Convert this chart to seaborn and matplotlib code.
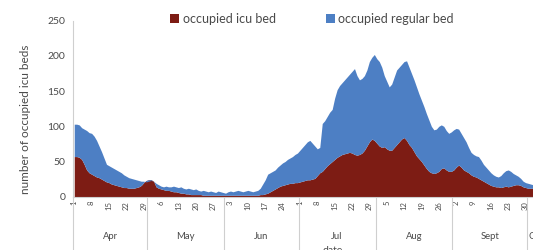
import numpy as np
import pandas as pd
import matplotlib
matplotlib.use("Agg")
import matplotlib.pyplot as plt
import matplotlib.transforms as mtransforms
import seaborn as sns

# --- DATA (one value per day from 1 April)
start_date = "2020-04-01"

total_beds = [
    103, 103, 102, 98, 96, 94, 91, 90, 86, 80, 72, 64, 55, 46, 44, 42, 40, 38, 36, 34,
    31, 29, 27, 26, 25, 24, 23, 22, 22, 21, 22, 23, 22, 19, 17, 15, 14, 15, 14, 14,
    15, 14, 13, 14, 12, 11, 12, 11, 10, 11, 9, 8, 9, 8, 7, 8, 7, 6, 8, 7,
    6, 5, 7, 8, 7, 8, 9, 8, 7, 8, 9, 8, 7, 8, 9, 12, 18, 24, 32, 34,
    36, 38, 42, 45, 48, 50, 53, 55, 57, 60, 62, 66, 70, 74, 78, 80, 76, 72, 68, 70,
    104, 108, 114, 120, 124, 140, 152, 158, 162, 166, 170, 174, 178, 182, 172, 166, 168, 172, 180, 192,
    198, 202, 196, 192, 184, 172, 164, 156, 160, 170, 180, 184, 188, 192, 193, 184, 175, 166, 156, 146,
    137, 128, 118, 109, 100, 95, 96, 100, 102, 100, 94, 90, 92, 95, 97, 96, 90, 84, 78, 70,
    63, 60, 58, 57, 52, 46, 42, 38, 34, 31, 29, 28, 30, 34, 37, 38, 36, 33, 31, 29,
    26, 22, 20, 19, 18, 17, 17, 16, 16, 15, 15,
]

icu_beds = [
    57, 57, 56, 53, 46, 38, 34, 32, 30, 28, 27, 25, 23, 21, 20, 18, 17, 16, 15, 14,
    13, 13, 12, 12, 12, 13, 14, 16, 20, 23, 24, 24, 22, 14, 12, 11, 10, 9, 9, 8,
    7, 7, 6, 5, 5, 4, 4, 3, 3, 3, 3, 3, 2, 2, 2, 2, 2, 2, 2, 2,
    2, 2, 2, 2, 2, 2, 2, 2, 2, 2, 2, 2, 2, 2, 2, 3, 3, 4, 5, 7,
    9, 11, 13, 15, 16, 17, 18, 19, 19, 20, 20, 21, 22, 23, 24, 24, 25, 26, 30, 34,
    36, 40, 44, 47, 50, 53, 56, 58, 60, 61, 62, 63, 62, 60, 59, 60, 62, 66, 72, 78,
    82, 80, 76, 72, 70, 71, 68, 66, 66, 70, 74, 78, 82, 84, 80, 74, 70, 64, 58, 54,
    50, 45, 40, 36, 34, 33, 34, 36, 40, 41, 38, 36, 36, 38, 42, 45, 42, 38, 36, 34,
    31, 29, 28, 26, 24, 22, 20, 18, 16, 15, 14, 14, 13, 14, 15, 14, 15, 16, 17, 17,
    16, 14, 13, 12, 12, 12, 11, 11, 11, 10, 10,
]

month_names = ["Apr", "May", "Jun", "Jul", "Aug", "Sept", "Oct"]
y_ticks = [0, 50, 100, 150, 200, 250]

icu_color = "#7d1c14"
regular_color = "#4d7fc4"
text_color = "#4a4a4a"
line_color = "#cfcfcf"

# --- FRAME
dates = pd.date_range(start_date, periods=len(total_beds), freq="D")
df = pd.DataFrame({"date": dates, "total": total_beds, "icu": icu_beds})
df["day"] = np.arange(len(df))

sns.set_style("white")
plt.rcParams["font.family"] = ["Lato", "DejaVu Sans"]

fig = plt.figure(figsize=(5.33, 2.5), dpi=100)
ax = fig.add_axes([73 / 533, 0.2132, len(df) * 2.48 / 533, 0.704])

ax.fill_between(df["day"], 0, df["icu"], color=icu_color, lw=0, label="occupied icu bed")
ax.fill_between(df["day"], df["icu"], df["total"], color=regular_color, lw=0,
                label="occupied regular bed")

ax.set_xlim(-0.5, len(df) - 0.5)
ax.set_ylim(0, 250)
ax.set_yticks(y_ticks)
ax.tick_params(axis="y", labelsize=7.5, colors=text_color, length=2.5, width=0.6,
               color=line_color, pad=3)

# weekly day-of-month labels, one tick line between every day
weekly = df[df["day"] % 7 == 0]
ax.set_xticks(weekly["day"])
ax.set_xticklabels(weekly["date"].dt.day.astype(str), rotation=90, fontsize=5.5,
                   color=text_color)
ax.set_xticks(df["day"] + 0.5, minor=True)
ax.tick_params(axis="x", which="major", length=0, pad=3)
ax.tick_params(axis="x", which="minor", length=11.5, width=0.6, color="#c4c4c4")

sns.despine(ax=ax, top=True, right=True)
for side in ["left", "bottom"]:
    ax.spines[side].set_color(line_color)
    ax.spines[side].set_linewidth(0.8)

# month group row
trans = mtransforms.blended_transform_factory(ax.transData, ax.transAxes)
month_start = df.groupby(df["date"].dt.month)["day"].min().values
month_end = df.groupby(df["date"].dt.month)["day"].max().values
ax.vlines(np.append(month_start - 0.5, month_end[-1] + 0.5), -0.35, 0, transform=trans,
          color=line_color, lw=0.8, clip_on=False)
for name, s, e in zip(month_names, month_start, month_end):
    ax.text((s + e) / 2, -0.225, name, transform=trans, ha="center", va="center",
            fontsize=6.8, color=text_color)

ax.set_ylabel("number of occupied icu beds", fontsize=8.5, color=text_color)
ax.yaxis.set_label_coords(31 / 533, 0.524, transform=fig.transFigure)
fig.text(333 / 533, -0.002, "date", ha="center", va="center", fontsize=7.5,
         color=text_color)

handles, labels = ax.get_legend_handles_labels()
fig.legend(handles, labels, loc="center", bbox_to_anchor=(312 / 533, 0.925), ncol=2,
           frameon=False, fontsize=9, handlelength=0.7, handleheight=0.7,
           handletextpad=0.3, columnspacing=4.0, labelcolor=text_color)

fig.savefig("out.png", dpi=100)
